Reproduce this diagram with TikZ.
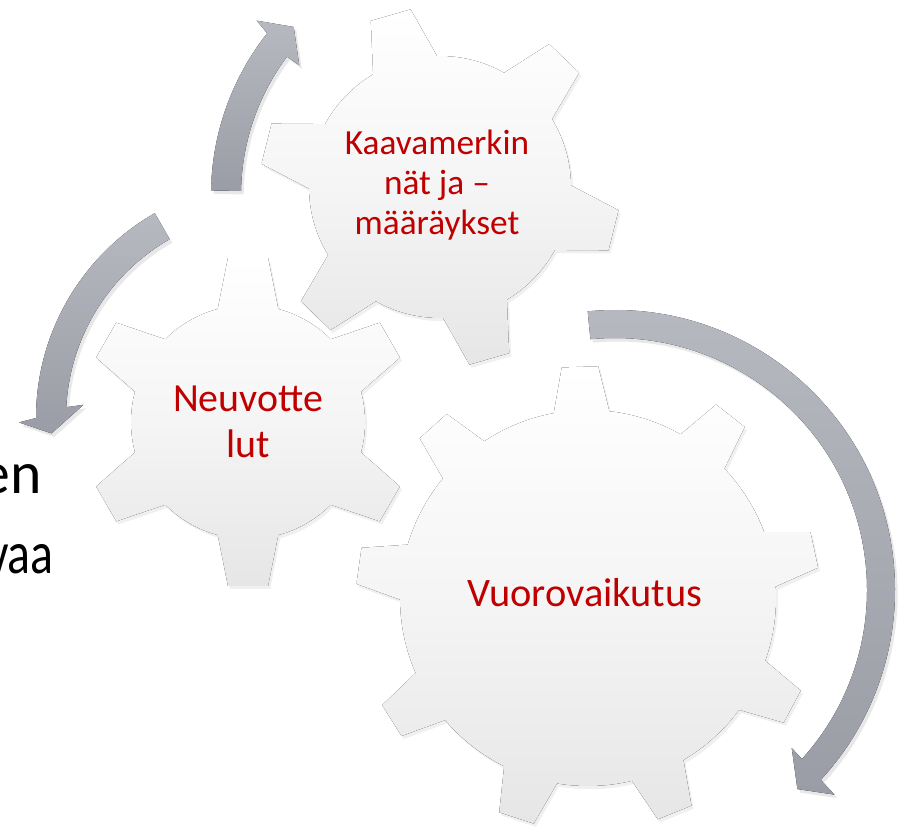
\documentclass[tikz,border=0pt]{standalone}
\usepackage{fontspec}
\setmainfont{Carlito}
\usetikzlibrary{shadows}
\usetikzlibrary{positioning}
\definecolor{kred}{RGB}{192,0,0}
\definecolor{arrtop}{RGB}{182,185,192}
\definecolor{arrbot}{RGB}{154,157,165}
\definecolor{cogbot}{RGB}{230,230,230}

% gear outline: center, teeth, first tooth angle, body r, tip r, base half angle, tip half angle
\newcommand{\cog}[7]{%
  \pgfmathsetmacro{\cogstep}{360/#2}
  \fill[cogfill, shift={(#1)}] (#3-#6:#4)
    \foreach \k in {1,...,#2}{
      -- ({#3+(\k-1)*\cogstep-#7}:#5) -- ({#3+(\k-1)*\cogstep+#7}:#5)
      -- ({#3+(\k-1)*\cogstep+#6}:#4)
      arc[start angle={#3+(\k-1)*\cogstep+#6}, end angle={#3+\k*\cogstep-#6}, radius=#4]
    } -- cycle;
}

\begin{document}
\begin{tikzpicture}[x=0.02cm, y=0.02cm,
	cogfill/.style={top color=white, bottom color=cogbot, middle color=white!96!black,
		drop shadow={opacity=0.12, shadow xshift=1.2pt, shadow yshift=-1.8pt}},
	arw/.style={top color=arrtop, bottom color=arrbot,
		drop shadow={opacity=0.18, shadow xshift=1.5pt, shadow yshift=-2pt}},
	lbl/.style={text=kred, align=center, inner sep=0pt},
	side/.style={font=\fontsize{34}{40}\selectfont, inner sep=0pt, anchor=base east}]
\useasboundingbox (0,0) rectangle (911,826);

% text of the slide, cut at the edge
\node[side] (en) at (42,333) {en};
\node[side, xscale=0.8, transform shape] (vaa) at (54,253) {vaa};

% circular arrows
\fill[arw, shift={(615,236)}] (95.6:280) arc[start angle=95.6, end angle=-42.7, radius=280]
	-- (-43:300) -- (-47.5:270) -- (-41.8:237) -- (-42.1:252)
	arc[start angle=-42.1, end angle=95.6, radius=252] -- cycle;
\fill[arw, shift={(272,408)}] (119.8:236) arc[start angle=119.8, end angle=180, radius=236]
	-- (181:253) -- (184:221) -- (176:189) -- (177:206)
	arc[start angle=177, end angle=119.8, radius=206] -- cycle;
\fill[arw, shift={(472,631)}] (179:261) arc[start angle=179, end angle=141.7, radius=261]
	-- (141:277) -- (136.7:245) -- (143.1:216) -- (143.2:231)
	arc[start angle=143.2, end angle=179, radius=231] -- cycle;

% gears
\coordinate (vuoro) at (588,228);
\coordinate (kaava) at (440,639);
\coordinate (neuvo) at (248,404);
\cog{vuoro}{9}{12}{188}{232}{8.5}{4.5}
\cog{kaava}{6}{46}{131}{180}{14.7}{6.6}
\cog{neuvo}{6}{30}{117}{165}{15}{7}

\node[lbl, font=\fontsize{20.1}{22.7}\selectfont] (kaavat) at (437,641) {Kaavamerkin\\nät ja --\\määräykset};
\node[lbl, font=\fontsize{22.7}{26}\selectfont] (neuvot) at (248,404) {Neuvotte\\lut};
\node[lbl, font=\fontsize{23}{26}\selectfont] (vuorot) at (585,233) {Vuorovaikutus};
\end{tikzpicture}
\end{document}
